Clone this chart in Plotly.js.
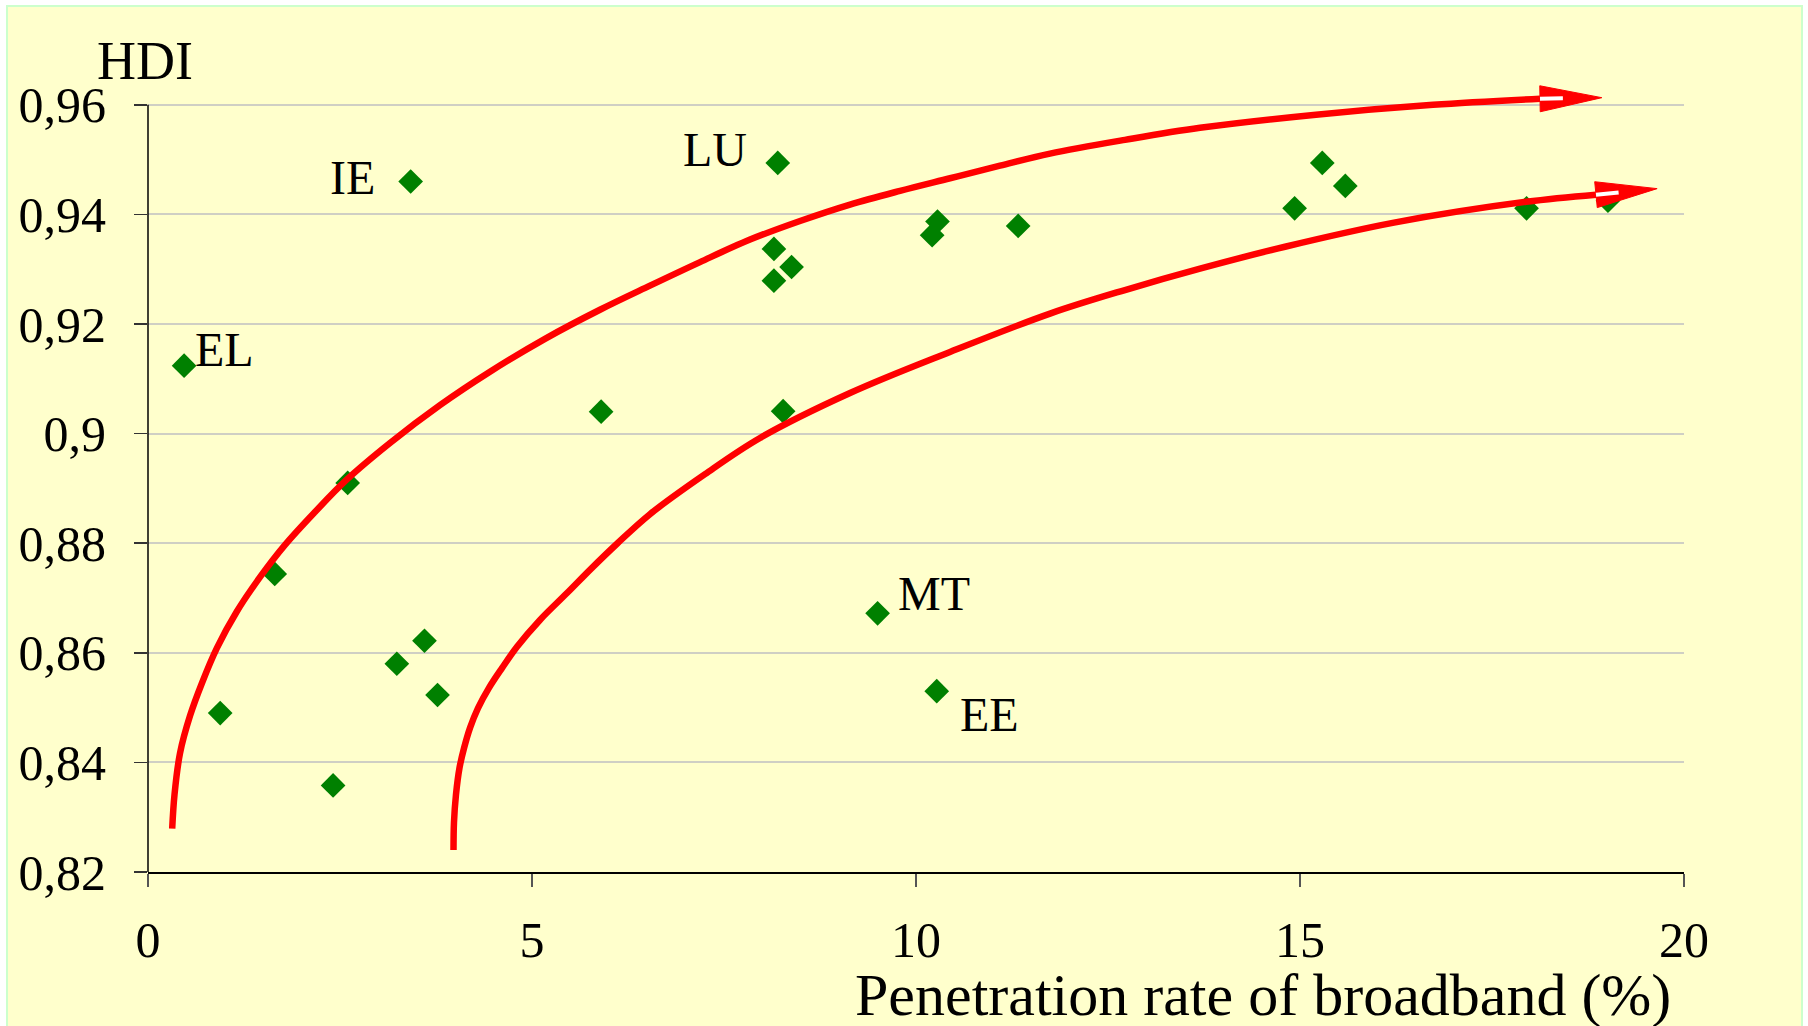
<!DOCTYPE html>
<html>
<head>
<meta charset="utf-8">
<script src="https://cdn.plot.ly/plotly-3.0.1.min.js"></script>
<style>
  html, body { margin: 0; padding: 0; background: #ffffff; width: 1808px; height: 1026px; overflow: hidden; }
  #chart { position: absolute; left: 6px; top: 5px; width: 1793px; height: 1021px;
           border-left: 2px solid #ccffcc; border-top: 2px solid #ccffcc; border-right: 2px solid #ccffcc; }
</style>
</head>
<body>
<div id="chart"></div>
<script>
// ---- data ----
var pointX = [0.47, 3.42, 8.20, 8.15, 8.38, 8.15, 10.28, 10.21, 11.33, 5.90, 8.27, 2.60, 1.65,
              3.60, 3.24, 3.77, 0.94, 2.41, 9.50, 10.27, 14.93, 15.29, 15.59, 17.95, 19.01];
var pointY = [0.9124, 0.9460, 0.9494, 0.9337, 0.9304, 0.9279, 0.9387, 0.9362, 0.9379, 0.9040, 0.9041, 0.8910, 0.8744,
              0.8622, 0.8580, 0.8523, 0.8490, 0.8358, 0.8672, 0.8530, 0.9411, 0.9494, 0.9452, 0.9411, 0.9425];

var labelText = ["EL", "IE", "LU", "MT", "EE"];
var labelX    = [0.47, 3.42, 8.20, 9.50, 10.27];
var labelY    = [0.9124, 0.9460, 0.9494, 0.8672, 0.8530];

var upperCurveX = [0.315, 0.345, 0.417, 0.547, 0.703, 0.898, 1.155, 1.458, 1.784, 2.174, 2.587, 3.151, 3.802,
                   4.453, 5.169, 5.885, 6.536, 7.188, 7.839, 8.490, 9.141, 9.792, 10.443, 11.094, 11.745,
                   12.721, 13.698, 15.208, 16.732, 18.125];
var upperCurveY = [0.8279, 0.8341, 0.8417, 0.8485, 0.8545, 0.8609, 0.8675, 0.8738, 0.8797, 0.8857, 0.8916, 0.8983, 0.9052,
                   0.9113, 0.9173, 0.9226, 0.9270, 0.9313, 0.9354, 0.9388, 0.9418, 0.9443, 0.9466, 0.9489, 0.9511,
                   0.9536, 0.9558, 0.9582, 0.9600, 0.9611];
var lowerCurveX = [3.978, 3.984, 4.010, 4.056, 4.115, 4.193, 4.297, 4.440, 4.609, 4.805, 5.104, 5.456, 5.781,
                   6.107, 6.536, 7.253, 7.969, 9.141, 10.443, 11.745, 12.721, 13.698, 14.805, 16.224, 17.943, 18.854];
var lowerCurveY = [0.8240, 0.8290, 0.8341, 0.8390, 0.8426, 0.8463, 0.8499, 0.8536, 0.8572, 0.8611, 0.8660, 0.8709, 0.8755,
                   0.8799, 0.8853, 0.8926, 0.8992, 0.9074, 0.9149, 0.9219, 0.9262, 0.9301, 0.9341, 0.9385, 0.9423, 0.9436];
var arrowTipX = [18.93, 19.65];
var arrowTipY = [0.9613, 0.9447];

var xTickVals = [0, 5, 10, 15, 20];
var xTickText = ["0", "5", "10", "15", "20"];
var yTickVals = [0.82, 0.84, 0.86, 0.88, 0.90, 0.92, 0.94, 0.96];
var yTickText = ["0,82", "0,84", "0,86", "0,88", "0,9", "0,92", "0,94", "0,96"];

// ---- styling / layout constants ----
var FONT = "Liberation Serif, Times New Roman, serif";
var W = 1793, H = 1021;
var xRange = [0, 20];
var yAxisTop = 0.96;            // last labelled value (axis line ends here)
var yRange = [0.82, 0.97];      // a little headroom so the upper arrow is not clipped
var mL = 140, mR = 117, mB = 156;
var plotW = W - mL - mR;
var pxX = plotW / (xRange[1] - xRange[0]);
var pxY = 767 / (yAxisTop - yRange[0]);
var plotH = (yRange[1] - yRange[0]) * pxY;
var mT = H - mB - plotH;

// label pixel offsets (style, not data)
var labelShiftX = [40, -58, -63, 56, 53];
var labelShiftY = [16, 4, 13, 20, -23];

// arrowhead built from the curve end and the tip, via axis scale
function arrowHead(bx, by, tx, ty, halfPx) {
  var dx = (tx - bx) * pxX, dy = (ty - by) * pxY;
  var len = Math.sqrt(dx * dx + dy * dy);
  var nx = -dy / len, ny = dx / len;
  return {
    x: [bx + nx * halfPx / pxX, tx, bx - nx * halfPx / pxX, bx + nx * halfPx / pxX],
    y: [by + ny * halfPx / pxY, ty, by - ny * halfPx / pxY, by + ny * halfPx / pxY]
  };
}
function notch(bx, by, tx, ty, frac) {
  return { x: [bx, bx + (tx - bx) * frac], y: [by, by + (ty - by) * frac] };
}

var RED = "#ff0000";
var traces = [];
traces.push({
  type: "scatter", mode: "markers", x: pointX, y: pointY,
  marker: {symbol: "diamond", size: 19, color: "#008000", line: {width: 0}},
  hoverinfo: "x+y", showlegend: false
});
var curves = [[upperCurveX, upperCurveY], [lowerCurveX, lowerCurveY]];
curves.forEach(function (c, i) {
  traces.push({
    type: "scatter", mode: "lines", x: c[0], y: c[1],
    line: {color: RED, width: 6.5, shape: "spline", smoothing: 1},
    hoverinfo: "skip", showlegend: false
  });
  var bx = c[0][c[0].length - 1], by = c[1][c[1].length - 1];
  var h = arrowHead(bx, by, arrowTipX[i], arrowTipY[i], 13);
  traces.push({
    type: "scatter", mode: "lines", x: h.x, y: h.y, fill: "toself", fillcolor: RED,
    line: {color: RED, width: 1}, hoverinfo: "skip", showlegend: false
  });
  var n = notch(bx, by, arrowTipX[i], arrowTipY[i], 0.37);
  traces.push({
    type: "scatter", mode: "lines", x: n.x, y: n.y,
    line: {color: "#ffffff", width: 4}, hoverinfo: "skip", showlegend: false
  });
});

var annotations = labelText.map(function (t, i) {
  return {
    x: labelX[i], y: labelY[i], xref: "x", yref: "y", text: t, showarrow: false,
    xshift: labelShiftX[i], yshift: labelShiftY[i],
    font: {family: FONT, size: 48, color: "#000000"}
  };
});
// y-axis title "HDI" above the axis
annotations.push({
  x: -0.0345, y: 0.9680, xref: "paper", yref: "y", xanchor: "left", yanchor: "middle",
  text: "HDI", showarrow: false, font: {family: FONT, size: 54, color: "#000000"}
});
// x-axis title, right aligned under the axis
annotations.push({
  x: 0.9928, y: -(960 - 872) / plotH, xref: "paper", yref: "paper", xanchor: "right", yanchor: "top",
  text: "Penetration rate of broadband (%)", showarrow: false,
  font: {family: FONT, size: 60, color: "#000000"}
});

var layout = {
  width: W, height: H,
  margin: {l: mL, r: mR, t: mT, b: mB},
  paper_bgcolor: "#ffffcc", plot_bgcolor: "#ffffcc",
  showlegend: false,
  separators: ", ",
  xaxis: {
    range: xRange, tickvals: xTickVals, ticktext: xTickText,
    showgrid: false, zeroline: false, showline: true, linecolor: "#000000", linewidth: 1.5,
    ticks: "outside", ticklen: 13, tickwidth: 1.5, tickcolor: "#555555",
    ticklabelstandoff: 10,
    tickfont: {family: FONT, size: 50, color: "#000000"}
  },
  yaxis: {
    range: yRange, tickvals: yTickVals, ticktext: yTickText,
    showgrid: true, gridcolor: "#cfcfc4", gridwidth: 2,
    zeroline: false, showline: false,
    ticks: "outside", ticklen: 13, tickwidth: 1.5, tickcolor: "#333333",
    ticklabelstandoff: 18,
    tickfont: {family: FONT, size: 50, color: "#000000"}
  },
  shapes: [{
    type: "line", xref: "paper", yref: "y", x0: 0, x1: 0, y0: yRange[0], y1: yAxisTop,
    line: {color: "#000000", width: 1.5}, layer: "above"
  }],
  annotations: annotations
};

Plotly.newPlot("chart", traces, layout, {displayModeBar: false, staticPlot: true});
</script>
</body>
</html>
